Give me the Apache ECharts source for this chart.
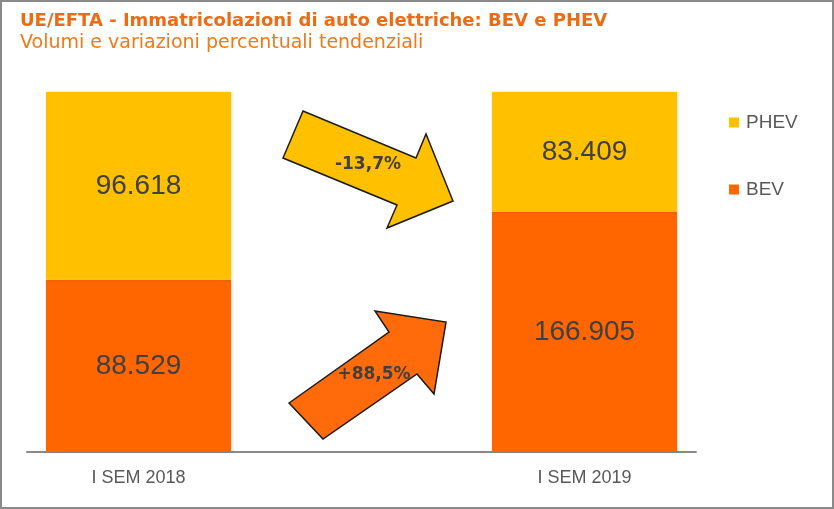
<!DOCTYPE html>
<html>
<head>
<meta charset="utf-8">
<script src="https://cdn.jsdelivr.net/npm/echarts@6/dist/echarts.min.js"></script>
<style>html,body{margin:0;padding:0;background:#fff;}#c{width:834px;height:509px;}</style>
</head>
<body>
<div id="c"></div>
<script>
const categories = ['I SEM 2018', '', 'I SEM 2019'];
const bevValues = [88529, null, 166905];
const phevValues = [96618, null, 83409];
const changeLabels = ['-13,7%', '+88,5%'];

function fmt(n) { return String(n).replace(/\B(?=(\d{3})+(?!\d))/g, '.'); }
function shares(vals) {
  return vals.map((v, i) => {
    if (v == null) return { value: null };
    const tot = bevValues[i] + phevValues[i];
    return { value: v / tot * 100, raw: v };
  });
}

const chart = echarts.init(document.getElementById('c'));
const labelCfg = {
  show: true, position: 'inside', color: '#404040', fontSize: 28,
  fontFamily: 'Liberation Sans', formatter: p => fmt(p.data.raw)
};
chart.setOption({
  animation: false,
  title: [
    { text: 'UE/EFTA - Immatricolazioni di auto elettriche: BEV e PHEV', left: 15, top: 7,
      textStyle: { color: '#EC6B13', fontSize: 18, fontWeight: 'bold', fontFamily: 'DejaVu Sans' } },
    { text: 'Volumi e variazioni percentuali tendenziali', left: 15, top: 29,
      textStyle: { color: '#F07A1A', fontSize: 19, fontWeight: 'normal', fontFamily: 'DejaVu Sans' } }
  ],
  legend: {
    orient: 'vertical', left: 724, top: 108, itemGap: 48, itemWidth: 10, itemHeight: 10,
    icon: 'rect', data: ['PHEV', 'BEV'],
    textStyle: { color: '#595959', fontSize: 19, fontFamily: 'Liberation Sans', padding: [0, 0, 0, 2] }
  },
  grid: { left: 27, right: 138, top: 92, bottom: 57 },
  xAxis: {
    type: 'category', data: categories,
    axisLine: { lineStyle: { color: '#898989', width: 2 } },
    axisTick: { show: false },
    axisLabel: { color: '#595959', fontSize: 18, margin: 17, fontFamily: 'Liberation Sans' }
  },
  yAxis: { type: 'value', min: 0, max: 100, show: false, splitLine: { show: false } },
  series: [
    { name: 'BEV', type: 'bar', stack: 's', data: shares(bevValues), barCategoryGap: '17%',
      itemStyle: { color: '#FF6600', shadowColor: 'rgba(0,0,0,0.18)', shadowBlur: 3, shadowOffsetX: 1 },
      label: labelCfg },
    { name: 'PHEV', type: 'bar', stack: 's', data: shares(phevValues),
      itemStyle: { color: '#FFC000', shadowColor: 'rgba(0,0,0,0.18)', shadowBlur: 3, shadowOffsetX: 1 },
      label: labelCfg }
  ],
  graphic: [
    { type: 'rect', shape: { x: 1, y: 1, width: 832, height: 507 }, z: 100,
      style: { fill: 'none', stroke: '#8a8a8a', lineWidth: 2 } },
    { type: 'polygon', z: 50,
      shape: { points: [[303, 111], [283, 158], [397, 205], [387, 228], [453, 201], [426, 134], [416, 158]] },
      style: { fill: '#FFC000', stroke: '#1a1a1a', lineWidth: 1.5 } },
    { type: 'text', z: 51, x: 368, y: 165,
      style: { text: changeLabels[0], fill: '#404040', font: 'bold 17px "DejaVu Sans"', align: 'center', verticalAlign: 'middle' } },
    { type: 'polygon', z: 50,
      shape: { points: [[289, 403], [323, 439], [417, 374], [434, 394], [446, 322], [375, 311], [389, 332]] },
      style: { fill: '#FF6A0A', stroke: '#1a1a1a', lineWidth: 1.5 } },
    { type: 'text', z: 51, x: 374, y: 375,
      style: { text: changeLabels[1], fill: '#404040', font: 'bold 17px "DejaVu Sans"', align: 'center', verticalAlign: 'middle' } }
  ]
});
</script>
</body>
</html>
